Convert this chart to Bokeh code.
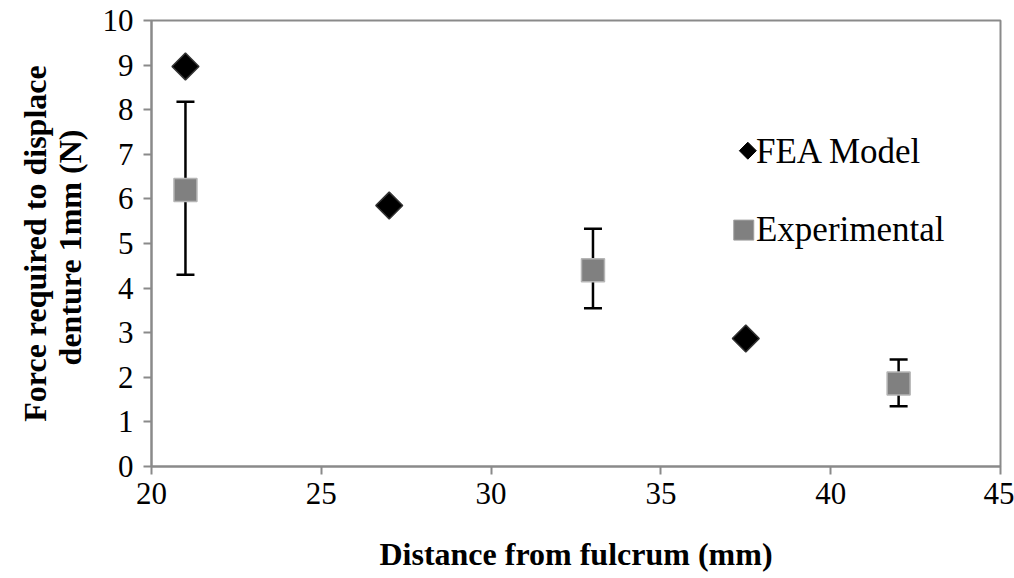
import math
from bokeh.plotting import figure
from bokeh.models import ColumnDataSource, Whisker, TeeHead, FixedTicker
from bokeh.embed import file_html
from bokeh.resources import INLINE
from bokeh.core.properties import value

# Data
fea_x = [21, 27, 37.5]
fea_y = [8.97, 5.85, 2.87]
exp_x = [21, 33, 42]
exp_y = [6.2, 4.4, 1.86]
exp_lo = [4.3, 3.55, 1.35]
exp_hi = [8.18, 5.33, 2.4]
x_ticks = [20, 25, 30, 35, 40, 45]
y_ticks = list(range(0, 11))
legend_labels = ["FEA Model", "Experimental"]

FONT = "'Liberation Serif', 'Times New Roman', serif"
AX = "#8a8a8a"

p = figure(width=1014, height=578, output_backend="svg", toolbar_location=None,
           x_range=(20, 45), y_range=(0, 10),
           min_border_left=151, min_border_right=14, min_border_top=20, min_border_bottom=112)
p.grid.visible = False
p.outline_line_color = AX
p.outline_line_width = 2
p.background_fill_color = "white"
p.border_fill_color = "white"

for ax in (p.xaxis[0], p.yaxis[0]):
    ax.axis_line_color = AX
    ax.axis_line_width = 2
    ax.major_tick_line_color = AX
    ax.major_tick_line_width = 2
    ax.major_tick_out = 8
    ax.major_tick_in = 0
    ax.minor_tick_line_color = None
    ax.major_label_text_font = FONT
    ax.major_label_text_font_size = "31px"
    ax.major_label_text_color = "black"
    ax.axis_label_text_font = FONT
    ax.axis_label_text_font_style = "bold"
    ax.axis_label_text_font_size = "32px"
    ax.axis_label_text_color = "black"

p.xaxis.ticker = FixedTicker(ticks=x_ticks)
p.yaxis.ticker = FixedTicker(ticks=y_ticks)
p.xaxis.major_label_standoff = 8
p.yaxis.major_label_standoff = 10
p.xaxis.axis_label = "Distance from fulcrum (mm)"
p.yaxis.axis_label = "Force required to displace\ndenture 1mm  (N)"
p.yaxis.axis_label_text_line_height = 0.95
p.xaxis.axis_label_standoff = 29
p.yaxis.axis_label_standoff = 12

src = ColumnDataSource(dict(x=exp_x, y=exp_y, lo=exp_lo, hi=exp_hi))
w = Whisker(source=src, base="x", lower="lo", upper="hi", dimension="height",
            line_color="black", line_width=2.5,
            upper_head=TeeHead(size=18, line_color="black", line_width=2.5),
            lower_head=TeeHead(size=18, line_color="black", line_width=2.5))
p.add_layout(w)

p.scatter(fea_x, fea_y, marker="square", angle=math.pi / 4, size=19,
          fill_color="black", line_color="#333333", line_width=1.5)
p.scatter("x", "y", source=src, marker="square", size=23,
          fill_color="#808080", line_color="#b5b5b5", line_width=1.5)

# Manual legend (positions in data coordinates)
p.scatter([37.56], [7.08], marker="square", angle=math.pi / 4, size=12,
          fill_color="black", line_color="black")
p.scatter([37.44], [5.3], marker="square", size=20,
          fill_color="#808080", line_color="#a0a0a0", line_width=1)
p.text(x=[37.8, 37.8], y=[7.07, 5.31], text=legend_labels,
       text_font=value(FONT), text_font_size="35px", text_color="black",
       text_baseline="middle", text_align="left")

open("out.html", "w").write(file_html(p, INLINE))
